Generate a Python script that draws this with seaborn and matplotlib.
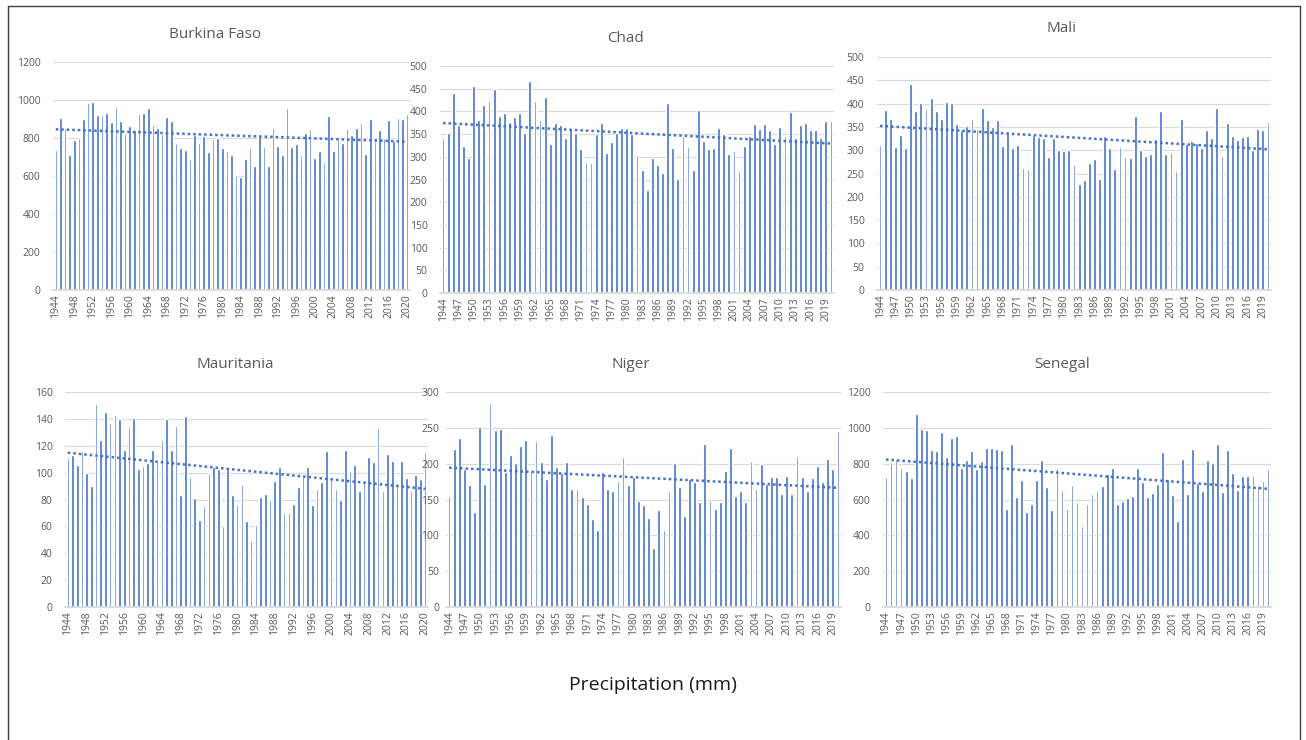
import numpy as np
import pandas as pd
import matplotlib
matplotlib.use('Agg')
import matplotlib.pyplot as plt
import seaborn as sns

# Annual precipitation (mm), 1944-2020
years = list(range(1944, 2021))

burkina_faso = [735, 903, 852, 713, 792, 799, 901, 982, 987, 922, 917, 933, 885, 964, 890, 825,
                864, 841, 927, 933, 959, 868, 852, 820, 912, 890, 776, 745, 739, 692, 815, 776,
                808, 724, 794, 799, 745, 734, 713, 606, 595, 687, 750, 655, 810, 755, 655, 854,
                760, 708, 956, 755, 766, 713, 825, 849, 697, 734, 676, 914, 734, 805, 776, 854,
                815, 854, 880, 718, 901, 785, 841, 799, 896, 785, 906, 901, 927]

chad = [342, 353, 441, 369, 324, 298, 457, 381, 414, 423, 449, 389, 396, 376, 387, 396,
        353, 466, 423, 381, 432, 328, 374, 369, 342, 363, 353, 317, 289, 286, 350, 374,
        309, 333, 353, 363, 363, 350, 304, 271, 227, 298, 282, 264, 419, 320, 252, 346,
        322, 271, 403, 335, 317, 320, 363, 350, 306, 312, 268, 324, 345, 372, 361, 372,
        359, 328, 365, 346, 399, 342, 369, 374, 359, 359, 342, 379, 379]

mali = [311, 386, 368, 306, 333, 304, 443, 384, 401, 388, 411, 384, 366, 403, 401, 357,
        343, 353, 366, 346, 390, 364, 349, 364, 309, 339, 304, 311, 261, 259, 333, 329,
        326, 285, 326, 300, 298, 300, 268, 228, 236, 272, 281, 239, 331, 304, 259, 306,
        285, 283, 374, 300, 287, 291, 324, 384, 291, 296, 256, 368, 313, 320, 315, 304,
        344, 326, 390, 287, 359, 331, 322, 329, 331, 300, 346, 344, 361]

mauritania = [111, 113, 106, 116, 100, 90, 151, 124, 145, 137, 143, 140, 117, 134, 141, 103,
              105, 107, 117, 108, 124, 140, 117, 135, 83, 142, 97, 81, 65, 75, 100, 104,
              103, 60, 103, 83, 77, 91, 64, 49, 61, 82, 84, 80, 94, 104, 70, 71,
              77, 89, 98, 104, 76, 88, 93, 116, 95, 88, 80, 117, 101, 106, 86, 93,
              112, 108, 133, 86, 114, 109, 92, 109, 96, 86, 98, 95, 115]

niger = [155, 220, 236, 192, 170, 133, 251, 172, 284, 247, 249, 188, 212, 201, 225, 233,
         188, 232, 202, 178, 240, 196, 187, 202, 164, 165, 154, 144, 123, 107, 188, 165,
         162, 176, 209, 170, 182, 148, 143, 124, 83, 136, 107, 162, 201, 168, 127, 179,
         174, 146, 228, 148, 137, 146, 190, 222, 155, 162, 147, 204, 164, 200, 172, 182,
         181, 158, 183, 157, 211, 182, 162, 180, 197, 174, 207, 193, 245]

senegal = [726, 809, 826, 776, 759, 718, 1079, 993, 986, 878, 873, 975, 835, 941, 956, 776,
           822, 873, 770, 817, 889, 889, 884, 878, 547, 912, 616, 707, 530, 577, 707, 822,
           668, 541, 776, 655, 547, 679, 588, 450, 577, 633, 649, 673, 740, 776, 577, 593,
           610, 621, 776, 696, 616, 638, 685, 867, 713, 627, 478, 828, 633, 884, 690, 649,
           820, 804, 912, 644, 878, 746, 655, 729, 729, 735, 679, 701, 770]

# name, values, y max, y step, year label step
panels = [
    ('Burkina Faso', burkina_faso, 1200, 200, 4),
    ('Chad', chad, 500, 50, 3),
    ('Mali', mali, 500, 50, 3),
    ('Mauritania', mauritania, 160, 20, 4),
    ('Niger', niger, 300, 50, 3),
    ('Senegal', senegal, 1200, 200, 3),
]

# axes boxes in pixels: left, right, top, bottom  / title position / y label pad
W, H = 1306, 740
boxes = [(53, 410, 62, 290), (440, 834, 66, 293), (877, 1271, 57, 290),
         (65, 428, 392, 607), (446, 841, 392, 607), (883, 1271, 392, 607)]
titles_xy = [(215, 35), (625, 38), (1062, 28), (235, 364), (631, 364), (1062, 364)]
ypads = [9, 9, 9, 9, 5, 9]

bar_color = '#4472C4'
text_color = '#595959'

sns.set_theme(style='white')
plt.rcParams['font.family'] = ['Open Sans', 'DejaVu Sans']

fig = plt.figure(figsize=(W / 100, H / 100), dpi=100)

for (name, vals, ymax, ystep, xstep), (l, r, t, b), (tx, ty), ypad in zip(panels, boxes, titles_xy, ypads):
    ax = fig.add_axes([l / W, 1 - b / H, (r - l) / W, (b - t) / H])
    df = pd.DataFrame({'year': years, 'precip': vals})
    sns.barplot(data=df, x='year', y='precip', color=bar_color, saturation=1,
                width=0.55, errorbar=None, ax=ax)

    # linear trend line
    pos = np.arange(len(years))
    coef = np.polyfit(pos, vals, 1)
    ax.plot(pos, np.polyval(coef, pos), color=bar_color, lw=1.8,
            linestyle=(0, (1, 1.2)))

    ax.set_xlim(-0.6, len(years) - 0.4)
    ax.set_ylim(0, ymax)
    ax.set_yticks(np.arange(0, ymax + 1, ystep))
    tick_pos = pos[::xstep]
    ax.set_xticks(tick_pos)
    ax.set_xticklabels([str(years[i]) for i in tick_pos], rotation=90)
    ax.tick_params(axis='both', labelsize=7.5, colors=text_color, length=0)
    ax.tick_params(axis='x', pad=3)
    ax.tick_params(axis='y', pad=ypad)
    ax.grid(axis='y', color='#d9d9d9', lw=0.8)
    ax.set_axisbelow(True)
    for s in ['top', 'right', 'left']:
        ax.spines[s].set_visible(False)
    ax.spines['bottom'].set_color('#d9d9d9')
    ax.set_xlabel('')
    ax.set_ylabel('')
    ax.patch.set_alpha(0)

    fig.text(tx / W, 1 - ty / H, name, ha='center', va='center',
             fontsize=11, color=text_color)

fig.text(653 / W, 1 - 685 / H, 'Precipitation (mm)', ha='center', va='center',
         fontsize=14, color='#1a1a1a')

# outer frame
frame = dict(color='#404040', lw=1)
fig.add_artist(plt.Line2D([8 / W, 8 / W], [0, 1 - 6 / H], transform=fig.transFigure, **frame))
fig.add_artist(plt.Line2D([8 / W, 1300 / W], [1 - 6 / H, 1 - 6 / H], transform=fig.transFigure, **frame))
fig.add_artist(plt.Line2D([1300 / W, 1300 / W], [0, 1 - 6 / H], transform=fig.transFigure, **frame))

fig.savefig('out.png', dpi=100, facecolor='white')
